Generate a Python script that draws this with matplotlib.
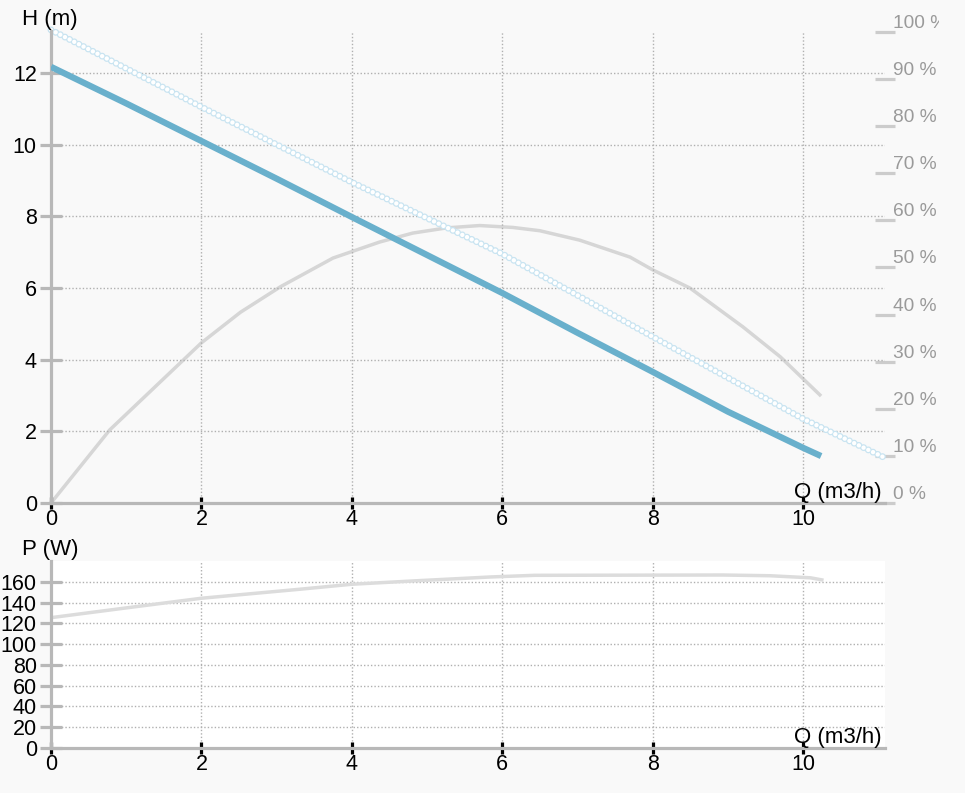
import matplotlib
matplotlib.use("Agg")
import matplotlib.pyplot as plt
from matplotlib.transforms import Bbox, TransformedBbox, IdentityTransform

plt.rcParams['font.family'] = ['Liberation Sans', 'DejaVu Sans']
plt.rcParams['lines.scale_dashes'] = False

# ---- data ----
head_q = [0, 1, 2, 3, 4, 5, 6, 7, 8, 9, 10, 10.24]
head_h = [12.17, 11.15, 10.1, 9.05, 7.98, 6.92, 5.86, 4.75, 3.66, 2.55, 1.54, 1.31]

max_q = [0, 2, 4, 6, 8, 10, 11.1]
max_h = [13.2, 11.05, 8.95, 6.95, 4.64, 2.35, 1.25]

eff_q = [0, 0.78, 2, 2.52, 3.05, 3.75, 4.37, 4.81, 5.26, 5.70, 6.14, 6.5, 7.03, 7.7, 8, 8.5, 9.2, 9.7, 10.24]
eff_pct = [0, 15.5, 34.0, 40.5, 45.9, 52.0, 55.4, 57.3, 58.4, 58.9, 58.5, 57.8, 55.8, 52.2, 49.5, 45.6, 37.4, 31.0, 22.7]

pow_q = [0, 1, 2, 3.31, 4, 4.9, 5.84, 6.43, 8.93, 9.56, 10.1, 10.25]
pow_w = [125.6, 135, 144.3, 153, 157.8, 161.3, 164.8, 166.4, 166.7, 166, 164, 162]

x_ticks = [0, 2, 4, 6, 8, 10]
h_ticks = [0, 2, 4, 6, 8, 10, 12]
pct_ticks = [0, 10, 20, 30, 40, 50, 60, 70, 80, 90, 100]
pct_labels = [f"{v} %" for v in pct_ticks]
p_ticks = [0, 20, 40, 60, 80, 100, 120, 140, 160]

# ---- style ----
W, H = 965, 793
BG = '#f9f9f9'
AXC = '#b8b8b8'
GRIDC = '#b0b0b0'
FS = 16
TFS = 15.5

fig = plt.figure(figsize=(W / 100, H / 100), dpi=100, facecolor=BG)


def style_axes(a):
    a.set_xlim(0, 11.09)
    a.set_xticks(x_ticks)
    for s in ['top', 'right']:
        a.spines[s].set_visible(False)
    for s in ['left', 'bottom']:
        a.spines[s].set_color(AXC)
        a.spines[s].set_linewidth(2.3)
    a.tick_params(axis='y', direction='inout', length=16.5, width=2.3, color=AXC,
                  labelsize=TFS, pad=2, labelcolor='black')
    a.tick_params(axis='x', direction='inout', length=8.5, width=2.3, color='black',
                  labelsize=TFS, pad=0, labelcolor='black')
    a.grid(True, color=GRIDC, linestyle=(0, (1, 1.5)), linewidth=1)
    a.set_axisbelow(True)


# ---- top chart ----
ax = fig.add_axes([51 / W, 1 - 503 / H, 834 / W, 472 / H])
ax2 = ax.twinx()
ax2.set_zorder(0)
ax.set_zorder(1)
ax.patch.set_visible(False)
ax2.set_facecolor('white')

style_axes(ax)
ax.set_ylim(0, 13.17)
ax.set_yticks(h_ticks)

ax2.set_ylim(0, 100.2)
ax2.set_yticks(pct_ticks)
ax2.set_yticklabels(pct_labels)
for s in ['top', 'right', 'left', 'bottom']:
    ax2.spines[s].set_visible(False)
ax2.tick_params(axis='y', direction='inout', length=14, width=2.3, color='#cccccc',
                labelsize=13.8, labelcolor='#9a9a9a', pad=-1)
clip_box = TransformedBbox(Bbox([[0, 0], [939, H]]), IdentityTransform())
for lab in ax2.get_yticklabels():
    lab.set_va('bottom')
    lab.set_clip_on(True)
    lab.set_clip_box(clip_box)

ax2.plot(eff_q, eff_pct, color='#d6d6d6', linewidth=2.5, solid_capstyle='butt', clip_on=False)

# hollow-circle line (max curve)
ax.plot(max_q, max_h, color='#c9e4f1', linewidth=5.0, linestyle=(0, (0.01, 3.75)),
        dash_capstyle='round', zorder=2, clip_on=False)
ax.plot(max_q, max_h, color='white', linewidth=3.2, linestyle=(0, (0.01, 3.75)),
        dash_capstyle='round', zorder=2.1, clip_on=False)

ax.plot(head_q, head_h, color='#69b0cc', linewidth=4.5, solid_capstyle='butt', zorder=3)

ax.text(0.9964, 0.0, 'Q (m3/h)', transform=ax.transAxes, ha='right', va='bottom',
        fontsize=FS, color='black')
fig.text(22 / W, 1 - 19 / H, 'H (m)', ha='left', va='center', fontsize=FS)

# ---- bottom chart ----
bx = fig.add_axes([51 / W, 1 - 748 / H, 834 / W, 187 / H])
bx.set_facecolor('white')
style_axes(bx)
bx.set_ylim(0, 180.2)
bx.set_yticks(p_ticks)
bx.plot(pow_q, pow_w, color='#dcdcdc', linewidth=2.5)
bx.text(0.9964, 0.0, 'Q (m3/h)', transform=bx.transAxes, ha='right', va='bottom',
        fontsize=FS, color='black')
fig.text(22 / W, 1 - 550 / H, 'P (W)', ha='left', va='center', fontsize=FS)

fig.savefig('out.png', dpi=100, facecolor=BG)
